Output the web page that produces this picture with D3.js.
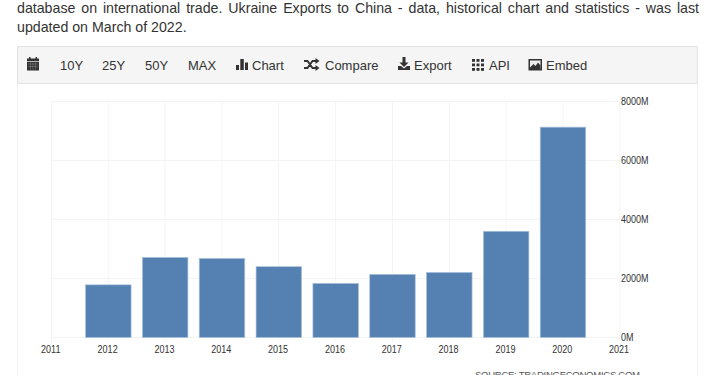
<!DOCTYPE html>
<html><head><meta charset="utf-8">
<script src="https://cdn.jsdelivr.net/npm/d3@7"></script>
<style>
html,body{margin:0;padding:0;background:#fff;overflow:hidden}
svg{display:block}
text{font-family:"Liberation Sans",Arial,sans-serif}
</style></head><body><svg id="c" width="710" height="375"></svg>
<script>
const paragraphLines = [
 {text:"database on international trade. Ukraine Exports to China - data, historical chart and statistics - was last", y:13, len:682},
 {text:"updated on March of 2022.", y:32, len:0}
];
const years = [2012,2013,2014,2015,2016,2017,2018,2019,2020];
const exportsM = [1785,2715,2680,2400,1835,2140,2205,3600,7130];
const xTicks = [2011,2012,2013,2014,2015,2016,2017,2018,2019,2020,2021];
const yTicks = [0,2000,4000,6000,8000];
const toolbarItems = [["10Y",60],["25Y",102],["50Y",145],["MAX",188],["Chart",252],["Compare",325],["Export",414],["API",489],["Embed",546]];
const sourceText = "SOURCE: TRADINGECONOMICS.COM";

const svg = d3.select("#c");
paragraphLines.forEach(l=>{
  const t = svg.append("text").attr("x",17).attr("y",l.y).attr("font-size",14.2).attr("fill","#333").text(l.text);
  if(l.len){
    const gaps = l.text.split(" ").length-1;
    t.attr("word-spacing",(l.len-t.node().getComputedTextLength())/gaps);
  }
});
// panel
svg.append("path").attr("d","M17.5 83V375M697.5 83V375").attr("stroke","#f3f3f3").attr("fill","none");
svg.append("rect").attr("x",17.5).attr("y",46.5).attr("width",680).attr("height",37).attr("fill","#f5f5f5").attr("stroke","#e3e3e3");
toolbarItems.forEach(([s,x])=>svg.append("text").attr("x",x).attr("y",70).attr("font-size",13).attr("fill","#333").text(s));
const ic = svg.append("g").attr("fill","#333");
// calendar
ic.append("rect").attr("x",27).attr("y",58.5).attr("width",12).attr("height",12);
ic.append("path").attr("d","M29 57h1.500v2h-1.500zM35.500 57h1.500v2h-1.500z");
ic.append("path").attr("d","M27 61.500h12").attr("stroke","#f5f5f5").attr("stroke-width",.7);
ic.append("path").attr("d","M28 64h10M28 66.500h10M30.500 62.500v7M33 62.500v7M35.500 62.500v7").attr("stroke","#888").attr("stroke-width",.5).attr("fill","none");
// chart icon
ic.append("path").attr("d","M236 65h3v5h-3zM240.300 59h3.500v11h-3.500zM245 62.500h3v7.500h-3z");
// shuffle
ic.append("path").attr("d","M304 61h3.500l5 7h3.500M304 68h3.500l5-7h3.500").attr("stroke","#333").attr("stroke-width",1.9).attr("fill","none");
ic.append("path").attr("d","M315.500 58l4 3-4 3zM315.500 65l4 3-4 3z");
// export
ic.append("path").attr("d","M402.500 57h3v5.500h3l-4.500 4.500-4.500-4.500h3zM398 66h3l3 2.500 3-2.500h3v4h-12z");
// API grid
const gx=[472,476.500,481], gy=[59,63.500,68];
gx.forEach(x=>gy.forEach(y=>ic.append("rect").attr("x",x).attr("y",y).attr("width",3).attr("height",2.8)));
// embed
ic.append("rect").attr("x",528.5).attr("y",59).attr("width",13.5).attr("height",11.5);
ic.append("rect").attr("x",530).attr("y",60.500).attr("width",10.5).attr("height",8.5).attr("fill","#eee");
ic.append("path").attr("d","M530 69v-1.500l3.500-3.500 2 2 2.500-3.500 2.500 3v3.500z");

const x = d3.scaleLinear().domain([2011,2021]).range([51.5,619.8]);
const y = d3.scaleLinear().domain([0,8000]).range([337.5,101.5]);
const grid = svg.append("g").attr("stroke","#f4f4f4").attr("fill","none");
xTicks.forEach(t=>grid.append("line").attr("x1",x(t)).attr("x2",x(t)).attr("y1",y(8000)).attr("y2",y(0)+5));
yTicks.forEach(t=>grid.append("line").attr("x1",x(2011)).attr("x2",x(2021)).attr("y1",y(t)).attr("y2",y(t)));
const bw = 45.5;
svg.append("g").selectAll("rect").data(years).join("rect")
  .attr("x",d=>x(d)-bw/2).attr("width",bw)
  .attr("y",(d,i)=>y(exportsM[i])).attr("height",(d,i)=>y(0)-y(exportsM[i]))
  .attr("fill","#5581b2").attr("stroke","#a9c1dc").attr("stroke-width",.7);
const condense = function(){
  const t = d3.select(this);
  t.attr("textLength",this.getComputedTextLength()*0.9).attr("lengthAdjust","spacingAndGlyphs");
};
svg.append("g").selectAll("text").data(xTicks).join("text")
  .attr("x",d=>x(d)-.7).attr("y",353).attr("text-anchor","middle").attr("font-size",10).attr("fill","#333").text(d=>d).each(condense);
svg.append("g").selectAll("text").data(yTicks).join("text")
  .attr("x",621).attr("y",d=>y(d)+3.5).attr("font-size",10).attr("fill","#333").text(d=>d+"M").each(condense);
svg.append("text").attr("x",475).attr("y",378).attr("font-size",9.500).attr("fill","#555").attr("textLength",165).text(sourceText);
</script></body></html>
